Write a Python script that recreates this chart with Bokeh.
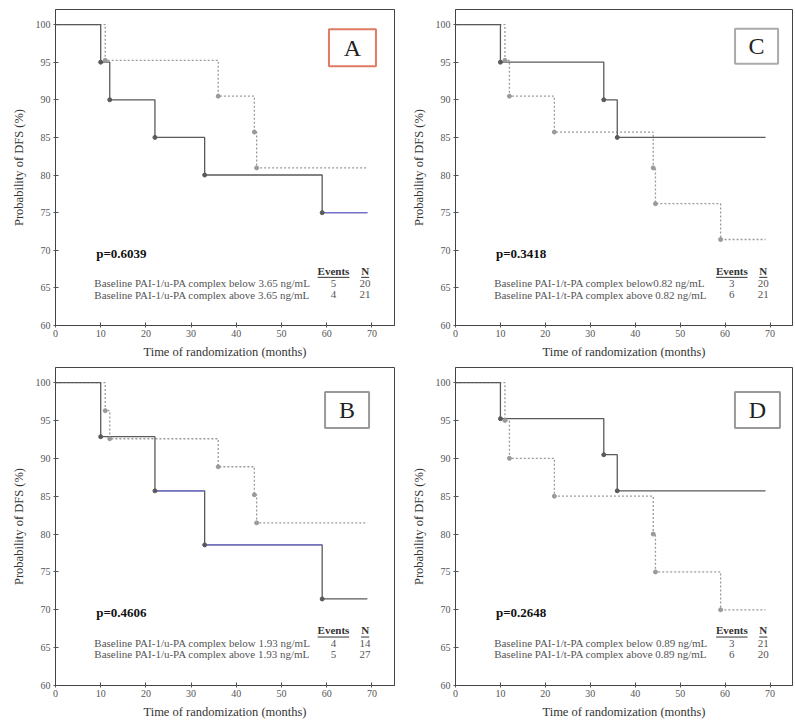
from bokeh.plotting import figure
from bokeh.layouts import gridplot
from bokeh.models import Range1d, FixedTicker, Label
from bokeh.embed import file_html
from bokeh.resources import INLINE

FONT = "'Liberation Serif', 'Times New Roman', serif"

# ---------------- data ----------------
x_ticks = [0, 10, 20, 30, 40, 50, 60, 70]
y_ticks = [60, 65, 70, 75, 80, 85, 90, 95, 100]

# Panel A  (PAI-1/u-PA, cut-off 3.65 ng/mL)
a_low_t = [10, 12, 22, 33, 59]
a_low_s = [95.0, 90.0, 85.0, 80.0, 75.0]
a_high_t = [11, 36, 44, 44.5]
a_high_s = [95.24, 90.48, 85.71, 80.95]
a_end = [69, 69]
a_p = "p=0.6039"
a_rows = ["Baseline PAI-1/u-PA complex below 3.65 ng/mL",
          "Baseline PAI-1/u-PA complex above 3.65 ng/mL"]
a_events = ["5", "4"]
a_n = ["20", "21"]

# Panel B  (PAI-1/u-PA, cut-off 1.93 ng/mL)
b_low_t = [10, 22, 33, 59]
b_low_s = [92.86, 85.71, 78.57, 71.43]
b_high_t = [11, 12, 36, 44, 44.5]
b_high_s = [96.30, 92.59, 88.89, 85.19, 81.48]
b_end = [69, 69]
b_p = "p=0.4606"
b_rows = ["Baseline PAI-1/u-PA complex below 1.93 ng/mL",
          "Baseline PAI-1/u-PA complex above 1.93 ng/mL"]
b_events = ["4", "5"]
b_n = ["14", "27"]

# Panel C  (PAI-1/t-PA, cut-off 0.82 ng/mL)
c_low_t = [10, 33, 36]
c_low_s = [95.0, 90.0, 85.0]
c_high_t = [11, 12, 22, 44, 44.5, 59]
c_high_s = [95.24, 90.48, 85.71, 80.95, 76.19, 71.43]
c_end = [69, 69]
c_p = "p=0.3418"
c_rows = ["Baseline PAI-1/t-PA complex below0.82 ng/mL",
          "Baseline PAI-1/t-PA complex above 0.82 ng/mL"]
c_events = ["3", "6"]
c_n = ["20", "21"]

# Panel D  (PAI-1/t-PA, cut-off 0.89 ng/mL)
d_low_t = [10, 33, 36]
d_low_s = [95.24, 90.48, 85.71]
d_high_t = [11, 12, 22, 44, 44.5, 59]
d_high_s = [95.0, 90.0, 85.0, 80.0, 75.0, 70.0]
d_end = [69, 69]
d_p = "p=0.2648"
d_rows = ["Baseline PAI-1/t-PA complex below 0.89 ng/mL",
          "Baseline PAI-1/t-PA complex above 0.89 ng/mL"]
d_events = ["3", "6"]
d_n = ["21", "20"]

SOLID = "#5a5a5a"
DASHED = "#9a9a9a"
BLUE = "#6f6fd8"


def make_panel(low_t, low_s, high_t, high_s, end, ptxt, rows, events, ns,
               letter, box_color, box_pos, box_size, width, height,
               bl, br, bt, bb, blue_steps=()):
    p = figure(width=width, height=height, output_backend="svg",
               toolbar_location=None, x_range=Range1d(0, 75),
               y_range=Range1d(60, 102), min_border_left=bl,
               min_border_right=br, min_border_top=bt, min_border_bottom=bb)
    p.xgrid.visible = False
    p.ygrid.visible = False
    p.outline_line_color = "#444444"
    p.outline_line_width = 1
    p.background_fill_color = "white"
    p.border_fill_color = "white"

    for ax in (p.xaxis[0], p.yaxis[0]):
        ax.axis_line_color = "#444444"
        ax.major_tick_line_color = "#555555"
        ax.minor_tick_line_color = None
        ax.major_tick_in = 3
        ax.major_tick_out = 2
        ax.major_label_text_font = FONT
        ax.major_label_text_font_size = "10px"
        ax.major_label_text_color = "#555555"
        ax.axis_label_text_font = FONT
        ax.axis_label_text_font_size = "12.5px"
        ax.axis_label_text_font_style = "normal"
        ax.axis_label_text_color = "#333333"
    p.xaxis[0].ticker = FixedTicker(ticks=x_ticks)
    p.yaxis[0].ticker = FixedTicker(ticks=y_ticks)
    p.xaxis[0].axis_label = "Time of randomization (months)"
    p.yaxis[0].axis_label = "Probability of DFS (%)"
    p.xaxis[0].major_label_standoff = 2
    p.xaxis[0].axis_label_standoff = 5
    p.yaxis[0].major_label_standoff = 3
    p.yaxis[0].axis_label_standoff = 7

    # survival curves
    lx = [0] + low_t + [end[0]]
    ly = [100.0] + low_s + [low_s[-1]]
    hx = [0] + high_t + [end[1]]
    hy = [100.0] + high_s + [high_s[-1]]
    p.step(hx, hy, mode="after", line_color=DASHED, line_width=1.3,
           line_dash="2 2")
    p.step(lx, ly, mode="after", line_color=SOLID, line_width=1.3)
    if blue_steps:
        p.segment(x0=[lx[i] for i in blue_steps], y0=[ly[i] for i in blue_steps],
                  x1=[lx[i + 1] for i in blue_steps],
                  y1=[ly[i] for i in blue_steps],
                  line_color=BLUE, line_width=1.3)
    p.scatter(high_t, high_s, marker="circle", size=4, fill_color=DASHED,
              line_color=DASHED)
    p.scatter(low_t, low_s, marker="circle", size=4, fill_color=SOLID,
              line_color=SOLID)

    # letter box
    p.rect(x=[box_pos[0]], y=[box_pos[1]], width=box_size[0],
           height=box_size[1], width_units="screen", height_units="screen",
           fill_color="white", line_color=box_color, line_width=2)
    p.add_layout(Label(x=box_pos[0], y=box_pos[1], text=letter,
                       text_align="center", text_baseline="middle",
                       text_font=FONT, text_font_size="24px",
                       text_color="#222222"))

    # p-value and table
    p.add_layout(Label(x=9, y=69.6, text=ptxt, text_font=FONT,
                       text_font_size="13px", text_font_style="bold",
                       text_baseline="middle", text_color="#111111"))
    ex, nx = 61.5, 68.5
    hy0 = 67.3
    p.add_layout(Label(x=ex, y=hy0, text="Events", text_font=FONT,
                       text_font_size="11px", text_font_style="bold",
                       text_align="center", text_baseline="middle",
                       text_color="#333333"))
    p.add_layout(Label(x=nx, y=hy0, text="N", text_font=FONT,
                       text_font_size="11px", text_font_style="bold",
                       text_align="center", text_baseline="middle",
                       text_color="#333333"))
    p.segment(x0=[ex - 3.5, nx - 0.9], y0=[hy0 - 0.9, hy0 - 0.9],
              x1=[ex + 3.5, nx + 0.9], y1=[hy0 - 0.9, hy0 - 0.9],
              line_color="#333333", line_width=1)
    for i, yy in enumerate([65.6, 64.1]):
        p.add_layout(Label(x=8.6, y=yy, text=rows[i], text_font=FONT,
                           text_font_size="11px", text_baseline="middle",
                           text_color="#555555"))
        p.add_layout(Label(x=ex, y=yy, text=events[i], text_font=FONT,
                           text_font_size="11px", text_align="center",
                           text_baseline="middle", text_color="#555555"))
        p.add_layout(Label(x=nx, y=yy, text=ns[i], text_font=FONT,
                           text_font_size="11px", text_align="center",
                           text_baseline="middle", text_color="#555555"))
    return p


pa = make_panel(a_low_t, a_low_s, a_high_t, a_high_s, a_end, a_p, a_rows,
                a_events, a_n, "A", "#e07a62", (65.7, 96.9), (47, 37),
                397, 362, 55, 3, 9, 37, blue_steps=(5,))
pc = make_panel(c_low_t, c_low_s, c_high_t, c_high_s, c_end, c_p, c_rows,
                c_events, c_n, "C", "#aaaaaa", (67.0, 97.1), (43, 35),
                398, 362, 58, 3, 9, 37)
pb = make_panel(b_low_t, b_low_s, b_high_t, b_high_s, b_end, b_p, b_rows,
                b_events, b_n, "B", "#999999", (64.5, 96.4), (44, 36),
                397, 363, 54, 3, 5, 40, blue_steps=(2, 3))
pd = make_panel(d_low_t, d_low_s, d_high_t, d_high_s, d_end, d_p, d_rows,
                d_events, d_n, "D", "#999999", (67.2, 96.4), (45, 36),
                398, 363, 58, 3, 5, 40)

grid = gridplot([[pa, pc], [pb, pd]], toolbar_location=None)

open("out.html", "w").write(file_html(grid, INLINE))
